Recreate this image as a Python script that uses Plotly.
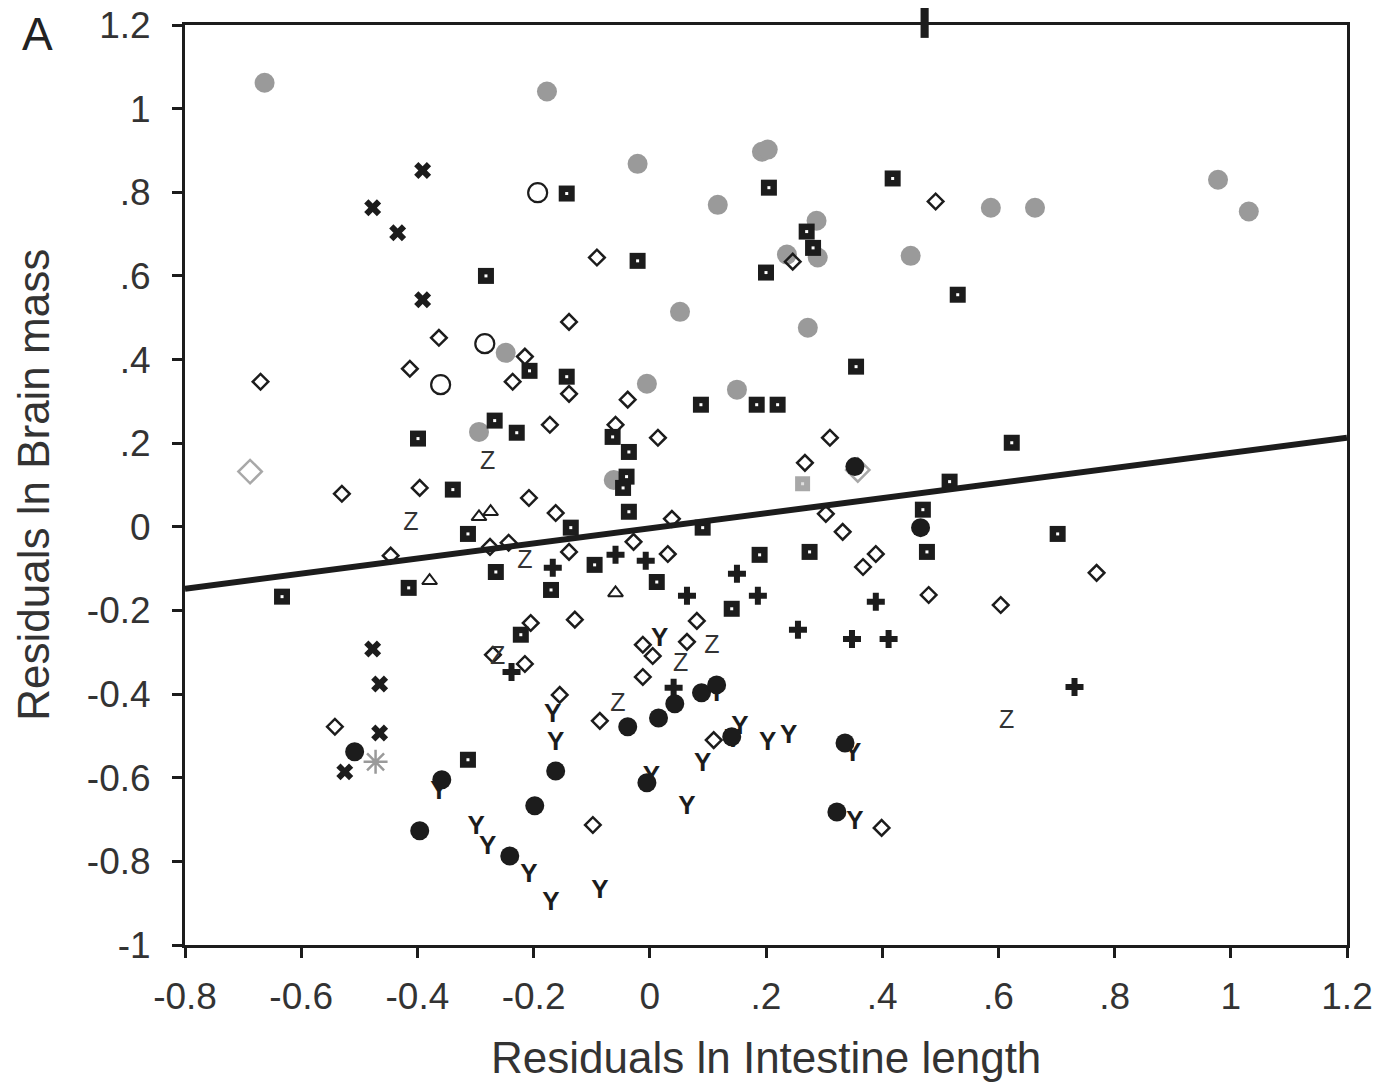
import plotly.graph_objects as go

# ---------------- data ----------------
gray_circle_x = [-0.663, -0.177, -0.021, 0.193, 0.203, 0.117, 0.287, 0.236, 0.289, 0.449, 0.587, 0.663,
                 0.978, 1.031, 0.052, 0.272, -0.248, -0.005, 0.150, -0.294, -0.062]
gray_circle_y = [1.062, 1.041, 0.868, 0.897, 0.902, 0.770, 0.732, 0.651, 0.644, 0.648, 0.763, 0.763,
                 0.830, 0.754, 0.514, 0.476, 0.416, 0.342, 0.328, 0.227, 0.112]

black_square_x = [-0.143, -0.282, -0.021, 0.205, 0.418, 0.270, 0.281, 0.200, 0.530, 0.355, 0.088, 0.184,
                  0.220, -0.064, -0.036, -0.040, -0.046, -0.036, 0.516, 0.623, -0.207, -0.143, -0.267,
                  -0.229, -0.399, -0.339, -0.313, -0.136, -0.265, -0.415, -0.633, -0.170, -0.222, 0.091,
                  -0.095, 0.012, 0.189, 0.275, 0.477, 0.141, 0.470, 0.702, -0.313]
black_square_y = [0.797, 0.600, 0.636, 0.811, 0.833, 0.706, 0.667, 0.608, 0.555, 0.383, 0.292, 0.292,
                  0.292, 0.215, 0.179, 0.120, 0.093, 0.036, 0.108, 0.201, 0.373, 0.359, 0.254,
                  0.225, 0.211, 0.089, -0.017, -0.002, -0.108, -0.146, -0.167, -0.151, -0.258, -0.002,
                  -0.091, -0.132, -0.067, -0.060, -0.060, -0.196, 0.041, -0.017, -0.557]

gray_square_x = [0.263]
gray_square_y = [0.103]

open_circle_x = [-0.193, -0.284, -0.360]
open_circle_y = [0.799, 0.438, 0.340]

diamond_x = [-0.670, -0.363, -0.413, -0.139, -0.215, -0.236, -0.139, -0.172, -0.091, 0.246, 0.492,
             -0.038, -0.059, 0.014, 0.310, 0.267, -0.530, -0.396, -0.208, -0.162, -0.446, -0.275,
             -0.243, -0.139, -0.129, -0.205, -0.270, -0.215, -0.155, 0.038, -0.028, 0.031, 0.081,
             -0.012, 0.005, 0.064, -0.012, 0.303, 0.332, 0.389, 0.367, 0.480, 0.769, 0.604,
             -0.542, -0.086, 0.110, -0.098, 0.399]
diamond_y = [0.347, 0.452, 0.378, 0.490, 0.407, 0.347, 0.318, 0.244, 0.644, 0.634, 0.778,
             0.304, 0.244, 0.213, 0.213, 0.153, 0.079, 0.093, 0.069, 0.033, -0.069, -0.048,
             -0.038, -0.060, -0.222, -0.230, -0.306, -0.328, -0.402, 0.019, -0.036, -0.065, -0.225,
             -0.282, -0.309, -0.275, -0.359, 0.031, -0.012, -0.065, -0.096, -0.163, -0.110, -0.187,
             -0.478, -0.464, -0.510, -0.713, -0.720]

gray_diamond_x = [-0.688, 0.358]
gray_diamond_y = [0.132, 0.136]

triangle_x = [-0.294, -0.274, -0.379, -0.059]
triangle_y = [0.024, 0.036, -0.129, -0.158]

z_x = [-0.279, -0.411, -0.215, -0.262, 0.107, 0.053, -0.055, 0.614]
z_y = [0.153, 0.007, -0.084, -0.313, -0.287, -0.330, -0.426, -0.467]

plus_x = [-0.167, -0.238, -0.059, -0.007, 0.150, 0.064, 0.186, 0.255, 0.348, 0.411, 0.389, 0.041, 0.731]
plus_y = [-0.098, -0.347, -0.067, -0.081, -0.112, -0.165, -0.165, -0.246, -0.268, -0.268, -0.179, -0.385, -0.383]

xmark_x = [-0.391, -0.477, -0.434, -0.391, -0.477, -0.465, -0.465, -0.525]
xmark_y = [0.852, 0.763, 0.703, 0.543, -0.292, -0.376, -0.493, -0.586]

asterisk_x = [-0.472]
asterisk_y = [-0.562]

black_circle_x = [-0.508, -0.358, -0.396, -0.198, -0.241, -0.162, -0.038, 0.015, 0.043, -0.005,
                  0.141, 0.336, 0.322, 0.089, 0.115, 0.466, 0.353]
black_circle_y = [-0.538, -0.605, -0.727, -0.667, -0.787, -0.584, -0.478, -0.457, -0.423, -0.612,
                  -0.502, -0.517, -0.682, -0.397, -0.378, -0.002, 0.144]

y_x = [-0.167, -0.162, -0.363, -0.299, -0.279, -0.208, -0.170, -0.086, 0.064, 0.091, 0.143, 0.155,
       0.203, 0.239, 0.349, 0.353, 0.003, 0.017, 0.115]
y_y = [-0.450, -0.517, -0.636, -0.720, -0.766, -0.833, -0.900, -0.871, -0.672, -0.569, -0.510, -0.481,
       -0.517, -0.502, -0.545, -0.706, -0.600, -0.270, -0.402]

fit_x = [-0.8, 1.2]
fit_y = [-0.148, 0.213]

x_tick_vals = [-0.8, -0.6, -0.4, -0.2, 0, 0.2, 0.4, 0.6, 0.8, 1.0, 1.2]
x_tick_text = ["-0.8", "-0.6", "-0.4", "-0.2", "0", ".2", ".4", ".6", ".8", "1", "1.2"]
y_tick_vals = [-1, -0.8, -0.6, -0.4, -0.2, 0, 0.2, 0.4, 0.6, 0.8, 1.0, 1.2]
y_tick_text = ["-1", "-0.8", "-0.6", "-0.4", "-0.2", "0", ".2", ".4", ".6", ".8", "1", "1.2"]

# ---------------- figure ----------------
DARK = "#1c1c1c"
GRAY = "#9a9a9a"
FONT = "Liberation Sans, Arial, sans-serif"

fig = go.Figure()

fig.add_trace(go.Scatter(x=gray_circle_x, y=gray_circle_y, mode="markers",
                         marker=dict(symbol="circle", size=20, color=GRAY, line=dict(width=0))))
fig.add_trace(go.Scatter(x=diamond_x, y=diamond_y, mode="markers",
                         marker=dict(symbol="diamond-open", size=12, color=DARK, line=dict(width=2.5, color=DARK))))
fig.add_trace(go.Scatter(x=gray_diamond_x, y=gray_diamond_y, mode="markers",
                         marker=dict(symbol="diamond-open", size=18, color="#a8a8a8", line=dict(width=2.5, color="#a8a8a8"))))
fig.add_trace(go.Scatter(x=open_circle_x, y=open_circle_y, mode="markers",
                         marker=dict(symbol="circle-open", size=19, color=DARK, line=dict(width=2.2, color=DARK))))
fig.add_trace(go.Scatter(x=triangle_x, y=triangle_y, mode="markers",
                         marker=dict(symbol="triangle-up-open", size=13, color=DARK, line=dict(width=2, color=DARK))))
fig.add_trace(go.Scatter(x=z_x, y=z_y, mode="text", text=["Z"] * len(z_x),
                         textfont=dict(family=FONT, size=25, color="#333333")))
fig.add_trace(go.Scatter(x=plus_x, y=plus_y, mode="markers",
                         marker=dict(symbol="cross", size=15, color=DARK, line=dict(width=0))))
fig.add_trace(go.Scatter(x=xmark_x, y=xmark_y, mode="markers",
                         marker=dict(symbol="x", size=15, color=DARK, line=dict(width=0))))
fig.add_trace(go.Scatter(x=asterisk_x, y=asterisk_y, mode="markers",
                         marker=dict(symbol="asterisk-open", size=20, color=GRAY, line=dict(width=2.5, color=GRAY))))
fig.add_trace(go.Scatter(x=black_circle_x, y=black_circle_y, mode="markers",
                         marker=dict(symbol="circle", size=19, color=DARK, line=dict(width=0))))
fig.add_trace(go.Scatter(x=y_x, y=y_y, mode="text", text=["<b>Y</b>"] * len(y_x),
                         textfont=dict(family=FONT, size=26, color=DARK)))
fig.add_trace(go.Scatter(x=black_square_x, y=black_square_y, mode="markers",
                         marker=dict(symbol="square", size=16, color=DARK, line=dict(width=0))))
fig.add_trace(go.Scatter(x=black_square_x, y=black_square_y, mode="markers",
                         marker=dict(symbol="square", size=3, color="white", line=dict(width=0))))
fig.add_trace(go.Scatter(x=gray_square_x, y=gray_square_y, mode="markers",
                         marker=dict(symbol="square", size=15, color="#a8a8a8", line=dict(width=0))))
fig.add_trace(go.Scatter(x=gray_square_x, y=gray_square_y, mode="markers",
                         marker=dict(symbol="square", size=3, color="#e0e0e0", line=dict(width=0))))
fig.add_trace(go.Scatter(x=fit_x, y=fit_y, mode="lines", line=dict(color=DARK, width=6)))

axis_common = dict(showgrid=False, zeroline=False, showline=True, linecolor=DARK, linewidth=3,
                   mirror=True, ticks="outside", ticklen=10, tickwidth=2.5, tickcolor=DARK,
                   automargin=False, ticklabeloverflow="allow",
                   tickfont=dict(family=FONT, size=37, color="#333333"))

fig.update_layout(
    template="none",
    width=1372, height=1075,
    margin=dict(l=177, r=33, t=17, b=138, pad=0),
    paper_bgcolor="white", plot_bgcolor="white",
    showlegend=False,
    xaxis=dict(range=[-0.8, 1.2], tickvals=x_tick_vals, ticktext=x_tick_text,
               ticklabelstandoff=7, **axis_common),
    yaxis=dict(range=[-1, 1.2], tickvals=y_tick_vals, ticktext=y_tick_text,
               ticklabelstandoff=14, **axis_common),
    annotations=[
        dict(text="Residuals ln Intestine length", xref="paper", yref="paper", x=0.5, y=-0.122,
             xanchor="center", yanchor="middle", showarrow=False,
             font=dict(family=FONT, size=44, color="#333333")),
        dict(text="Residuals ln Brain mass", xref="paper", yref="paper", x=-0.131, y=0.5,
             xanchor="center", yanchor="middle", textangle=-90, showarrow=False,
             font=dict(family=FONT, size=44, color="#333333")),
        dict(text="A", xref="paper", yref="paper", x=-0.127, y=0.99,
             xanchor="center", yanchor="middle", showarrow=False,
             font=dict(family=FONT, size=46, color="#222222")),
    ],
    shapes=[
        dict(type="rect", xref="x", yref="paper", x0=0.466, x1=0.480, y0=0.986, y1=1.03,
             fillcolor=DARK, line=dict(width=0)),
    ],
)

fig.write_html("out.html")
